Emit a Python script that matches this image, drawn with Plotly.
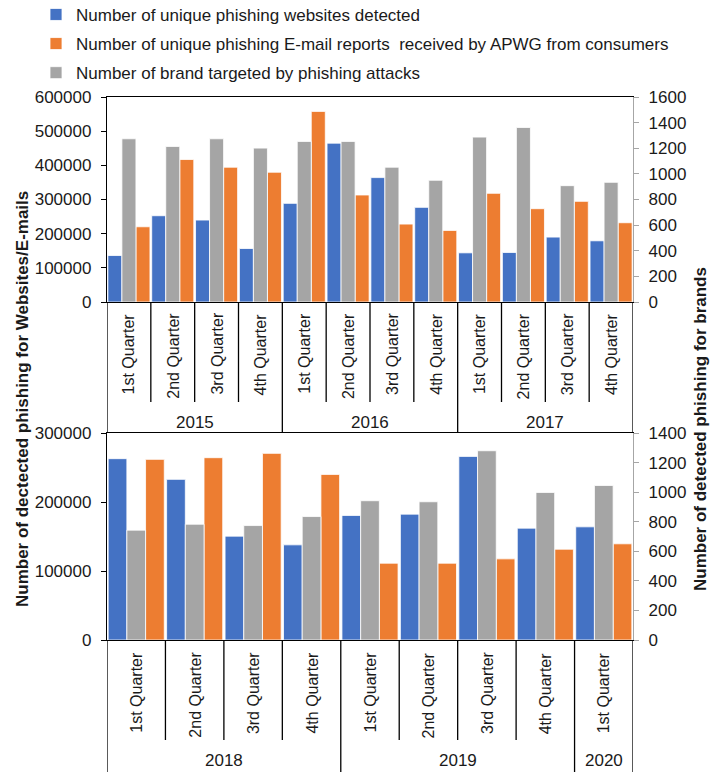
import plotly.graph_objects as go

# ---- data -------------------------------------------------------------
quarters_top = ["1st Quarter", "2nd Quarter", "3rd Quarter", "4th Quarter"] * 3
years_top = ["2015"] * 4 + ["2016"] * 4 + ["2017"] * 4
websites_top = [136000, 252500, 239800, 156600, 288700, 464900,
                364100, 277000, 143900, 144900, 189900, 179100]
emails_top = [220200, 417000, 394500, 379800, 557900, 313200,
              228000, 209500, 318100, 273100, 294600, 232000]
brands_top = [1274, 1214, 1274, 1201, 1253, 1253, 1052, 950, 1287, 1362, 908, 934]

quarters_bot = ["1st Quarter", "2nd Quarter", "3rd Quarter", "4th Quarter",
                "1st Quarter", "2nd Quarter", "3rd Quarter", "4th Quarter",
                "1st Quarter"]
years_bot = ["2018"] * 4 + ["2019"] * 4 + ["2020"]
websites_bot = [262800, 232800, 150500, 137900, 180500, 182400, 266100, 162100, 164000]
emails_bot = [261800, 264200, 270500, 240000, 111300, 111300, 117600, 131600, 139400]
brands_bot = [743, 783, 774, 835, 942, 935, 1280, 998, 1045]

series_names = [
    "Number of unique phishing websites detected",
    "Number of unique phishing E-mail reports  received by APWG from consumers",
    "Number of brand targeted by phishing attacks",
]

# ---- styling ----------------------------------------------------------
W, H = 710, 772
BLUE, ORANGE, GRAY = "#4472C4", "#ED7D31", "#A5A5A5"
FONT = "Liberation Sans, Arial, sans-serif"
TXT = "#1a1a1a"

X0, X1 = 107, 633                 # plot left/right in px
TOP_Y = (97, 302)                  # top panel: top, bottom px
BOT_Y = (433, 640)                 # bottom panel: top, bottom px


def py(px):
    return 1 - px / H


BW = 0.32
OFFS = {"blue": -0.48, "gray": -0.16, "orange": 0.16}

fig = go.Figure()


def add_panel(xa, ya_l, ya_r, websites, emails, brands, legend):
    n = list(range(len(websites)))
    common = dict(width=BW, marker_line=dict(color="white", width=0.8))
    fig.add_trace(go.Bar(x=n, y=websites, name=series_names[0], marker_color=BLUE,
                         offset=OFFS["blue"], xaxis=xa, yaxis=ya_l,
                         legendgroup="w", legendrank=1, showlegend=legend, **common))
    fig.add_trace(go.Bar(x=n, y=emails, name=series_names[1], marker_color=ORANGE,
                         offset=OFFS["orange"], xaxis=xa, yaxis=ya_l,
                         legendgroup="e", legendrank=2, showlegend=legend, **common))
    fig.add_trace(go.Bar(x=n, y=brands, name=series_names[2], marker_color=GRAY,
                         offset=OFFS["gray"], xaxis=xa, yaxis=ya_r,
                         legendgroup="b", legendrank=3, showlegend=legend, **common))


add_panel("x", "y", "y2", websites_top, emails_top, brands_top, True)
add_panel("x2", "y3", "y4", websites_bot, emails_bot, brands_bot, False)

xdom = [X0 / W, X1 / W]
left_axis = dict(showgrid=False, zeroline=False, showline=True, linecolor="black",
                 linewidth=1.3, ticks="outside", ticklen=5, tickcolor="black",
                 tickformat="d", ticklabelstandoff=6, automargin=False,
                 tickfont=dict(family=FONT, size=17, color=TXT))
right_axis = dict(showgrid=False, zeroline=False, showline=True, linecolor="#a6a6a6",
                  linewidth=1.3, ticks="outside", ticklen=5, tickcolor="#a6a6a6",
                  tickformat="d", ticklabelstandoff=6, side="right", automargin=False,
                  tickfont=dict(family=FONT, size=17, color=TXT))
x_axis = dict(showgrid=False, zeroline=False, showline=True, linecolor="black",
              linewidth=1.3, mirror=True, showticklabels=False, ticks="", domain=xdom,
              automargin=False)

fig.update_layout(
    template="none",
    width=W, height=H, margin=dict(l=0, r=0, t=0, b=0, pad=0, autoexpand=False),
    plot_bgcolor="white", paper_bgcolor="white", barmode="overlay",
    font=dict(family=FONT, color=TXT),
    xaxis=dict(x_axis, anchor="y", range=[-0.5, len(websites_top) - 0.5]),
    yaxis=dict(left_axis, anchor="x", domain=[py(TOP_Y[1]), py(TOP_Y[0])],
               range=[0, 600000], dtick=100000),
    yaxis2=dict(right_axis, anchor="x", overlaying="y", range=[0, 1600], dtick=200),
    xaxis2=dict(x_axis, anchor="y3", range=[-0.5, len(websites_bot) - 0.5]),
    yaxis3=dict(left_axis, anchor="x2", domain=[py(BOT_Y[1]), py(BOT_Y[0])],
                range=[0, 300000], dtick=100000),
    yaxis4=dict(right_axis, anchor="x2", overlaying="y3", range=[0, 1400], dtick=200),
    legend=dict(x=36 / W, y=1.004, xanchor="left", yanchor="top", orientation="v",
                font=dict(family=FONT, size=17, color=TXT), tracegroupgap=4,
                bgcolor="rgba(0,0,0,0)"),
)

# ---- two-level category labels -----------------------------------------
annotations, shapes = [], []


def category_labels(xref, quarters, years, axis_bottom, q_top, q_div_end, y_label, y_div_end):
    for i, q in enumerate(quarters):
        annotations.append(dict(x=i, xref=xref, y=py(q_top), yref="paper", text=q,
                                textangle=-90, showarrow=False, xanchor="center",
                                yanchor="top", font=dict(family=FONT, size=16, color=TXT)))
    # year labels centred over their quarters
    start = 0
    for i in range(1, len(years) + 1):
        if i == len(years) or years[i] != years[start]:
            annotations.append(dict(x=(start + i - 1) / 2, xref=xref, y=py(y_label),
                                    yref="paper", text=years[start], showarrow=False,
                                    xanchor="center", yanchor="middle",
                                    font=dict(family=FONT, size=17, color=TXT)))
            start = i
    # divider lines
    for b in range(len(years) + 1):
        edge = b == 0 or b == len(years) or years[b] != years[b - 1]
        end = y_div_end if edge else q_div_end
        shapes.append(dict(type="line", xref=xref, yref="paper", x0=b - 0.5, x1=b - 0.5,
                           y0=py(axis_bottom), y1=py(end),
                           line=dict(color="black", width=1.3)))


category_labels("x", quarters_top, years_top, TOP_Y[1], 311, 402, 422, 432)
category_labels("x2", quarters_bot, years_bot, BOT_Y[1], 650, 740, 760, 772)

# ---- axis titles ---------------------------------------------------------
annotations.append(dict(x=23 / W, y=py(399), xref="paper", yref="paper",
                        text="<b>Number of dectected phishing for Websites/E-mails</b>",
                        textangle=-90, showarrow=False, xanchor="center", yanchor="middle",
                        font=dict(family=FONT, size=17, color=TXT)))
annotations.append(dict(x=700 / W, y=py(429), xref="paper", yref="paper",
                        text="<b>Number of detected phishing for brands</b>",
                        textangle=-90, showarrow=False, xanchor="center", yanchor="middle",
                        font=dict(family=FONT, size=17, color=TXT)))

fig.update_layout(annotations=annotations, shapes=shapes)
fig.write_html("out.html")
